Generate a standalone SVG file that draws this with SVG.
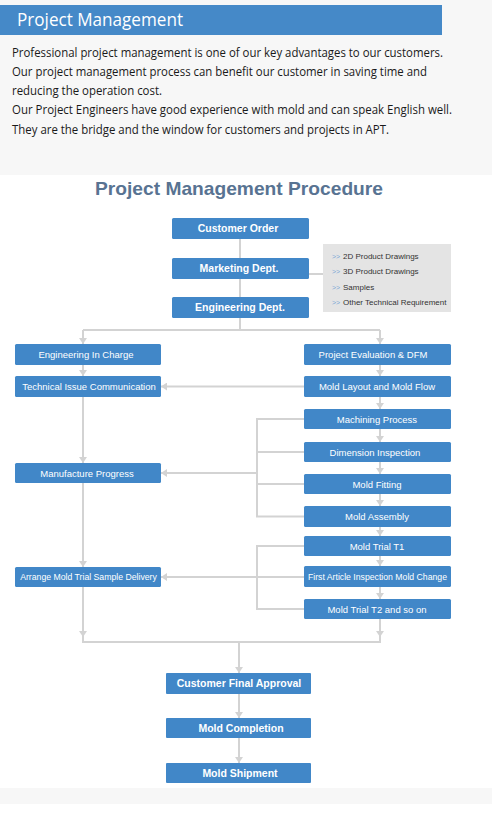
<svg xmlns="http://www.w3.org/2000/svg" width="492" height="817" viewBox="0 0 492 817">
<defs>
<style>
.bg{fill:#f7f7f7}
.box{fill:#4187c8}
.para{font-family:"Open Sans","Noto Sans",sans-serif;font-size:12.4px;fill:#1a1a1a}
.bt{font-family:"Liberation Sans",Arial,sans-serif;fill:#fff;text-anchor:middle}
.bb{font-size:10.5px;font-weight:bold}
.bn{font-size:9.5px}
.sm{font-size:8.7px}
.pt{font-family:"Liberation Sans",Arial,sans-serif;font-size:8px;fill:#333}
.pa{font-family:"Liberation Sans",Arial,sans-serif;font-size:7px;fill:#7ba8d6}
.ln{fill:none;stroke:#d3d3d3;stroke-width:2}
.ar{fill:none;stroke:#d3d3d3;stroke-width:2;marker-end:url(#ah)}
</style>
<marker id="ah" viewBox="0 0 6 8" refX="6" refY="4" markerWidth="6" markerHeight="8" markerUnits="userSpaceOnUse" orient="auto">
<path d="M0,0 L6,4 L0,8 z" fill="#d3d3d3"/>
</marker>
</defs>
<rect x="0" y="0" width="492" height="817" fill="#fff"/>
<rect class="bg" x="0" y="0" width="492" height="175"/>
<rect class="bg" x="0" y="788" width="492" height="16"/>

<g id="header">
<rect x="0" y="5" width="442" height="30" fill="#4589c8"/>
<text x="17" y="26" font-family="Open Sans,Noto Sans,sans-serif" font-size="17.5" fill="#fff" textLength="166" lengthAdjust="spacingAndGlyphs">Project Management</text>
</g>
<g id="intro">
<text class="para" x="12" y="56.5" textLength="431" lengthAdjust="spacingAndGlyphs">Professional project management is one of our key advantages to our customers.</text>
<text class="para" x="12" y="75.8" textLength="415" lengthAdjust="spacingAndGlyphs">Our project management process can benefit our customer in saving time and</text>
<text class="para" x="12" y="95.1" textLength="150" lengthAdjust="spacingAndGlyphs">reducing the operation cost.</text>
<text class="para" x="12" y="114.4" textLength="440" lengthAdjust="spacingAndGlyphs">Our Project Engineers have good experience with mold and can speak English well.</text>
<text class="para" x="12" y="133.7" textLength="377" lengthAdjust="spacingAndGlyphs">They are the bridge and the window for customers and projects in APT.</text>
</g>
<g id="title">
<text x="239" y="195" font-family="Liberation Sans,Arial,sans-serif" font-size="19" font-weight="bold" fill="#587392" text-anchor="middle" textLength="288" lengthAdjust="spacingAndGlyphs">Project Management Procedure</text>
</g>

<g id="connectors">
<path class="ln" d="M240,239 V258 M240,279 V297 M309,274 H323 M240,318 V330 M83,330 H380"/>
<path class="ar" d="M83,330 V344"/>
<path class="ar" d="M380,330 V344"/>
<path class="ar" d="M83,365 V376"/>
<path class="ar" d="M83,397 V463"/>
<path class="ar" d="M83,483 V567"/>
<path class="ln" d="M83,587 V642 H380 V619"/>
<path class="ar" d="M83,628 V637"/>
<path class="ar" d="M380,628 V637"/>
<path class="ar" d="M239,642 V673"/>
<path class="ar" d="M239,694 V718"/>
<path class="ar" d="M239,738 V763"/>
<path class="ar" d="M380,365 V376"/>
<path class="ar" d="M380,397 V409"/>
<path class="ar" d="M380,429 V442"/>
<path class="ar" d="M380,462 V474"/>
<path class="ar" d="M380,494 V506"/>
<path class="ar" d="M380,527 V536"/>
<path class="ar" d="M380,556 V566"/>
<path class="ar" d="M380,587 V599"/>
<path class="ar" d="M304,386.5 H161"/>
<path class="ln" d="M304,419 H257 V516.5 H304 M257,452 H304 M257,484 H304"/>
<path class="ar" d="M257,473 H161"/>
<path class="ln" d="M304,546 H257 V609 H304 M257,577 H304"/>
<path class="ar" d="M257,577 H161"/>
</g>

<g id="customer-order"><rect class="box" x="172" y="218" width="137" height="21" rx="1.5"/><text class="bt bb" x="238" y="232.3">Customer Order</text></g>
<g id="marketing"><rect class="box" x="172" y="258" width="137" height="21" rx="1.5"/><text class="bt bb" x="239" y="272.3">Marketing Dept.</text></g>
<g id="engineering"><rect class="box" x="172" y="297" width="137" height="21" rx="1.5"/><text class="bt bb" x="240" y="311.3">Engineering Dept.</text></g>
<g id="requirements">
<rect x="323" y="244" width="128" height="68" fill="#e4e4e4"/>
<text class="pa" x="332" y="258.7">&gt;&gt;</text><text class="pt" x="343" y="258.7">2D Product Drawings</text>
<text class="pa" x="332" y="273.7">&gt;&gt;</text><text class="pt" x="343" y="273.7">3D Product Drawings</text>
<text class="pa" x="332" y="289.7">&gt;&gt;</text><text class="pt" x="343" y="289.7">Samples</text>
<text class="pa" x="332" y="304.7">&gt;&gt;</text><text class="pt" x="343" y="304.7">Other Technical Requirement</text>
</g>

<g id="eng-in-charge"><rect class="box" x="15" y="344" width="146" height="21" rx="1.5"/><text class="bt bn" x="86" y="358">Engineering In Charge</text></g>
<g id="tech-issue"><rect class="box" x="15" y="376" width="146" height="21" rx="1.5"/><text class="bt bn" x="89" y="390">Technical Issue Communication</text></g>
<g id="manufacture"><rect class="box" x="15" y="463" width="146" height="20" rx="1.5"/><text class="bt bn" x="87" y="476.5">Manufacture Progress</text></g>
<g id="arrange"><rect class="box" x="15" y="567" width="146" height="20" rx="1.5"/><text class="bt sm" x="88.5" y="580.3">Arrange Mold Trial Sample Delivery</text></g>

<g id="project-eval"><rect class="box" x="304" y="344" width="147" height="21" rx="1.5"/><text class="bt bn" x="373" y="358">Project Evaluation &amp; DFM</text></g>
<g id="mold-layout"><rect class="box" x="304" y="376" width="147" height="21" rx="1.5"/><text class="bt bn" x="377" y="390">Mold Layout and Mold Flow</text></g>
<g id="machining"><rect class="box" x="304" y="409" width="147" height="20" rx="1.5"/><text class="bt bn" x="377" y="422.5">Machining Process</text></g>
<g id="dimension"><rect class="box" x="304" y="442" width="147" height="20" rx="1.5"/><text class="bt bn" x="375" y="455.5">Dimension Inspection</text></g>
<g id="mold-fitting"><rect class="box" x="304" y="474" width="147" height="20" rx="1.5"/><text class="bt bn" x="377" y="487.5">Mold Fitting</text></g>
<g id="mold-assembly"><rect class="box" x="304" y="506" width="147" height="21" rx="1.5"/><text class="bt bn" x="377" y="520">Mold Assembly</text></g>
<g id="trial-t1"><rect class="box" x="304" y="536" width="147" height="20" rx="1.5"/><text class="bt bn" x="377" y="549.5">Mold Trial T1</text></g>
<g id="first-article"><rect class="box" x="304" y="566" width="147" height="21" rx="1.5"/><text class="bt sm" x="377.5" y="579.8">First Article Inspection Mold Change</text></g>
<g id="trial-t2"><rect class="box" x="304" y="599" width="147" height="20" rx="1.5"/><text class="bt bn" x="377" y="612.5">Mold Trial T2 and so on</text></g>

<g id="final-approval"><rect class="box" x="166" y="673" width="145" height="21" rx="1"/><text class="bt bb" x="239" y="687.3">Customer Final Approval</text></g>
<g id="mold-completion"><rect class="box" x="166" y="718" width="145" height="20" rx="1"/><text class="bt bb" x="241" y="731.8">Mold Completion</text></g>
<g id="mold-shipment"><rect class="box" x="166" y="763" width="145" height="20" rx="1"/><text class="bt bb" x="240" y="776.8">Mold Shipment</text></g>
</svg>
